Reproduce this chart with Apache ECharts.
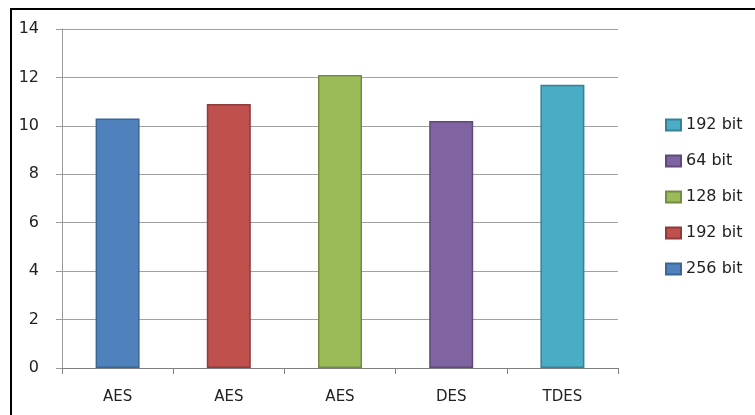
<!DOCTYPE html>
<html><head><meta charset="utf-8">
<script src="https://cdn.jsdelivr.net/npm/echarts@6/dist/echarts.min.js"></script>
<style>html,body{margin:0;padding:0;background:#fff}#c{width:755px;height:415px}</style>
</head><body><div id="c"></div>
<script>
var categories = ['AES', 'AES', 'AES', 'DES', 'TDES'];
var seriesNames = ['256 bit', '192 bit', '128 bit', '64 bit', '192 bit\u200b'];
var values = [10.3, 10.9, 12.1, 10.2, 11.7];
var legendOrder = ['192 bit\u200b', '64 bit', '128 bit', '192 bit', '256 bit'];
var yTicks = [0, 2, 4, 6, 8, 10, 12, 14];

var fills = ['#4F81BD', '#C0504D', '#9BBB59', '#8064A2', '#4BACC6'];
var borders = ['#3A6696', '#8E3B39', '#738B42', '#5E4A78', '#378196'];
var font = 'DejaVu Sans';

var series = seriesNames.map(function (n, i) {
  var d = categories.map(function (c, j) { return j === i ? values[i] : null; });
  return {
    name: n, type: 'bar', stack: 'all', data: d, barWidth: 44,
    itemStyle: { color: fills[i], borderColor: borders[i], borderWidth: 1.5 }
  };
});

var chart = echarts.init(document.getElementById('c'));
chart.setOption({
  animation: false,
  backgroundColor: '#fff',
  textStyle: { fontFamily: font },
  grid: { left: 62, right: 137, top: 29, bottom: 47 },
  legend: {
    data: legendOrder, orient: 'vertical', left: 660, top: 112,
    itemWidth: 15, itemHeight: 11, itemGap: 20,
    icon: 'rect',
    textStyle: { fontFamily: font, fontSize: 16, lineHeight: 16, color: '#222' },
    formatter: function (n) { return n.replace('\u200b', ''); }
  },
  xAxis: {
    type: 'category', data: categories,
    axisLine: { lineStyle: { color: '#7f7f7f', width: 1 } },
    axisTick: { show: true, length: 6, lineStyle: { color: '#7f7f7f' } },
    axisLabel: { fontFamily: font, fontSize: 15, color: '#222', margin: 22 }
  },
  yAxis: {
    type: 'value', min: yTicks[0], max: yTicks[yTicks.length - 1], interval: 2,
    axisLine: { show: true, lineStyle: { color: '#9a9a9a' } },
    axisTick: { show: true, length: 6, lineStyle: { color: '#9a9a9a' } },
    splitLine: { lineStyle: { color: '#a0a0a0' } },
    axisLabel: { fontFamily: font, fontSize: 16, color: '#222', margin: 23 }
  },
  graphic: [
    { type: 'polyline', shape: { points: [[11, 415], [11, 9], [755, 9]] },
      style: { stroke: '#000', lineWidth: 2, fill: null }, z: 100 }
  ],
  series: series
});
</script></body></html>
